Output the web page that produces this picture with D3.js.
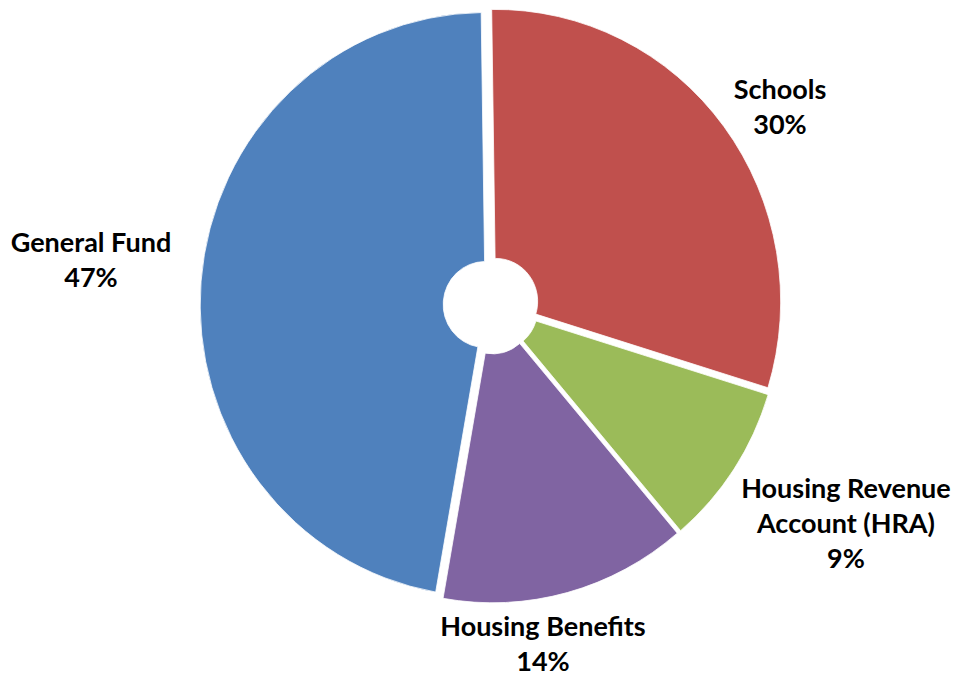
<!DOCTYPE html>
<html>
<head>
<meta charset="utf-8">
<script src="https://cdn.jsdelivr.net/npm/d3@7"></script>
<style>
  body { margin: 0; background: #fff; }
  svg { display: block; }
  .lbl { font-family: Lato, "Open Sans", sans-serif; font-weight: bold; fill: #000; }
</style>
</head>
<body>
<div id="pieChart"></div>
<script>
// slice data, clockwise from 12 o'clock
const categories = ["Schools", "Housing Revenue Account (HRA)", "Housing Benefits", "General Fund"];
const shares = [30, 9, 14, 47];
const colors = ["#C0504D", "#9BBB59", "#8064A2", "#4F81BD"];
// label lines as shown on the chart
const labelLines = [["Schools"], ["Housing Revenue", "Account (HRA)"], ["Housing Benefits"], ["General Fund"]];

// label anchors (centre of the text block), in page pixels
const labelAt = [[780, 106], [846, 522], [543, 643], [91, 259]];

const W = 955, H = 676;
const cx = 491, cy = 305;
const outerR = 292, innerR = 43, explode = 6;

const svg = d3.select("#pieChart").append("svg")
    .attr("width", W).attr("height", H);

const data = categories.map((c, i) => ({ cat: c, value: shares[i], color: colors[i], lines: labelLines[i] }));

const pie = d3.pie()
    .value(d => d.value)
    .sort(null)
    .startAngle(-0.014)
    .endAngle(2 * Math.PI - 0.014);

const arc = d3.arc().innerRadius(innerR).outerRadius(outerR);

const arcs = pie(data);

// pie group (slightly narrower than tall, like the original)
const g = svg.append("g")
    .attr("transform", `translate(${cx},${cy}) scale(0.976,1)`);

g.selectAll("path")
    .data(arcs)
    .enter()
    .append("path")
    .attr("d", arc)
    .attr("fill", d => d.data.color)
    .attr("stroke", "#fff")
    .attr("stroke-width", 0.8)
    .attr("transform", d => {
        const a = (d.startAngle + d.endAngle) / 2;
        return `translate(${Math.sin(a) * explode},${-Math.cos(a) * explode})`;
    });

// labels
const lineH = 35;
const lab = svg.append("g")
    .selectAll("text")
    .data(arcs)
    .enter()
    .append("text")
    .attr("class", "lbl")
    .attr("text-anchor", "middle")
    .style("font-size", "27px");

lab.each(function(d, i) {
    const lines = d.data.lines.concat([d.data.value + "%"]);
    const x = labelAt[i][0];
    const y0 = labelAt[i][1] - (lines.length - 1) * lineH / 2;
    const t = d3.select(this);
    lines.forEach((s, k) => {
        t.append("tspan")
            .attr("x", x)
            .attr("y", y0 + k * lineH)
            .attr("dominant-baseline", "central")
            .text(s);
    });
});
</script>
</body>
</html>
